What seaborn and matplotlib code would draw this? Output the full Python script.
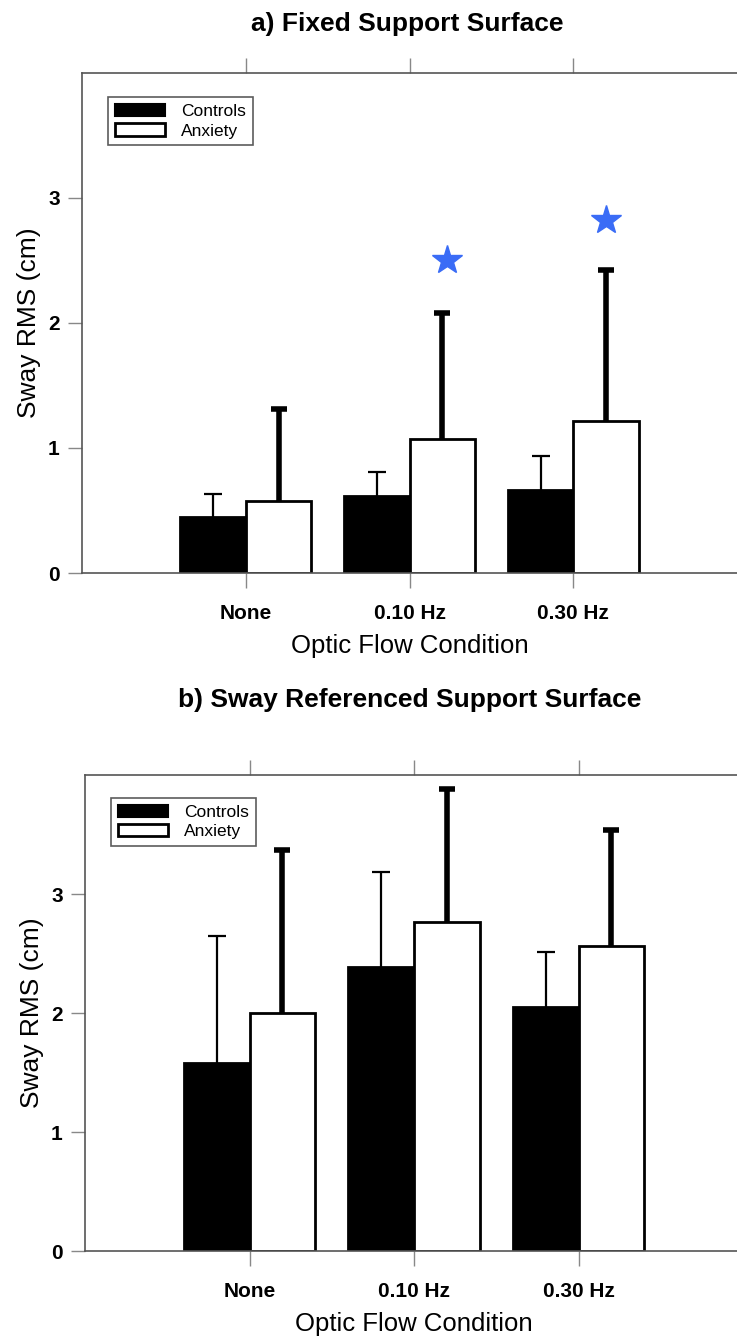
import numpy as np
import pandas as pd
import matplotlib
matplotlib.use("Agg")
import matplotlib.pyplot as plt
import seaborn as sns
from matplotlib.patches import Patch

sns.set_theme(style="white")
plt.rcParams['font.family'] = ['Liberation Sans', 'DejaVu Sans']
plt.rcParams['text.color'] = 'black'
plt.rcParams['axes.labelcolor'] = 'black'
plt.rcParams['xtick.labelcolor'] = 'black'
plt.rcParams['ytick.labelcolor'] = 'black'

conditions = ["None", "0.10 Hz", "0.30 Hz"]
groups = ["Controls", "Anxiety"]

# Panel a) Fixed Support Surface
a_controls = [0.445, 0.613, 0.664]
a_controls_sd = [0.189, 0.195, 0.269]
a_anxiety = [0.573, 1.069, 1.216]
a_anxiety_sd = [0.739, 1.008, 1.208]
a_star_x = [1.23, 2.2]
a_star_y = [2.50, 2.82]

# Panel b) Sway Referenced Support Surface
b_controls = [1.578, 2.389, 2.054]
b_controls_sd = [1.068, 0.796, 0.461]
b_anxiety = [2.003, 2.763, 2.560]
b_anxiety_sd = [1.367, 1.117, 0.977]

fig = plt.figure(figsize=(7.37, 13.36), dpi=100)
ax_a = fig.add_axes([0.1113, 0.5711, 0.8887, 0.3743])
ax_b = fig.add_axes([0.1153, 0.0636, 0.893, 0.3563])

spine_col = "#555555"


def draw_panel(ax, ctrl, ctrl_sd, anx, anx_sd):
    df = pd.DataFrame({
        "cond": conditions * 2,
        "group": [groups[0]] * 3 + [groups[1]] * 3,
        "val": list(ctrl) + list(anx),
    })
    sns.barplot(data=df, x="cond", y="val", hue="group", order=conditions,
                hue_order=groups, palette=["black", "white"], edgecolor="black",
                linewidth=2, width=0.8, errorbar=None, legend=False, ax=ax,
                saturation=1)
    sds = [ctrl_sd, anx_sd]
    lws = [1.6, 4.0]
    capw = [13, 12]
    for i, cont in enumerate(ax.containers[:2]):
        xs = np.array([p.get_x() + p.get_width() / 2 for p in cont.patches])
        hs = np.array([p.get_height() for p in cont.patches])
        tops = hs + np.array(sds[i])
        ax.vlines(xs, hs, tops, colors="black", linewidth=lws[i], zorder=1)
        ax.plot(xs, tops, linestyle="none", marker="_", markersize=capw[i],
                markeredgewidth=lws[i], color="black", zorder=1)
    ax.set_xlim(-1, 3)
    ax.set_ylim(0, 4.0)
    ax.set_yticks([0, 1, 2, 3])
    ax.set_yticklabels(["0", "1", "2", "3"], fontsize=15, fontweight="bold")
    ax.set_xticks([0, 1, 2])
    ax.set_xticklabels(conditions, fontsize=15, fontweight="bold")
    ax.set_xlabel("Optic Flow Condition", fontsize=18.5, labelpad=8)
    ax.set_ylabel("Sway RMS (cm)", fontsize=19, labelpad=5)
    for s in ["left", "top", "bottom"]:
        ax.spines[s].set_color(spine_col)
        ax.spines[s].set_linewidth(1.2)
    ax.spines["right"].set_visible(False)
    ax.tick_params(axis="x", which="both", top=True, bottom=True, direction="out",
                   length=11, width=1, color="#888888", pad=11)
    ax.tick_params(axis="y", left=True, direction="out", length=10, width=1,
                   color="#888888", pad=6)
    handles = [Patch(facecolor="black", edgecolor="black", linewidth=1.5),
               Patch(facecolor="white", edgecolor="black", linewidth=2)]
    leg = ax.legend(handles, groups, loc="upper left", bbox_to_anchor=(0.039, 0.952),
                    fontsize=12.5, frameon=True, fancybox=False, handlelength=2.9,
                    handleheight=0.7, handletextpad=0.95, borderpad=0.4,
                    labelspacing=0.25, borderaxespad=0)
    leg.get_frame().set_edgecolor("#333333")
    leg.get_frame().set_linewidth(1.2)


draw_panel(ax_a, a_controls, a_controls_sd, a_anxiety, a_anxiety_sd)
ax_a.plot(a_star_x, a_star_y, linestyle="none", marker="*", markersize=22,
          color="#3a6cf6", markeredgecolor="#3a6cf6")
draw_panel(ax_b, b_controls, b_controls_sd, b_anxiety, b_anxiety_sd)

fig.text(0.553, 0.982, "a) Fixed Support Surface", ha="center", va="center",
         fontsize=19, fontweight="bold")
fig.text(0.556, 0.476, "b) Sway Referenced Support Surface", ha="center", va="center",
         fontsize=19, fontweight="bold")

fig.savefig("out.png", dpi=100, facecolor="white")
